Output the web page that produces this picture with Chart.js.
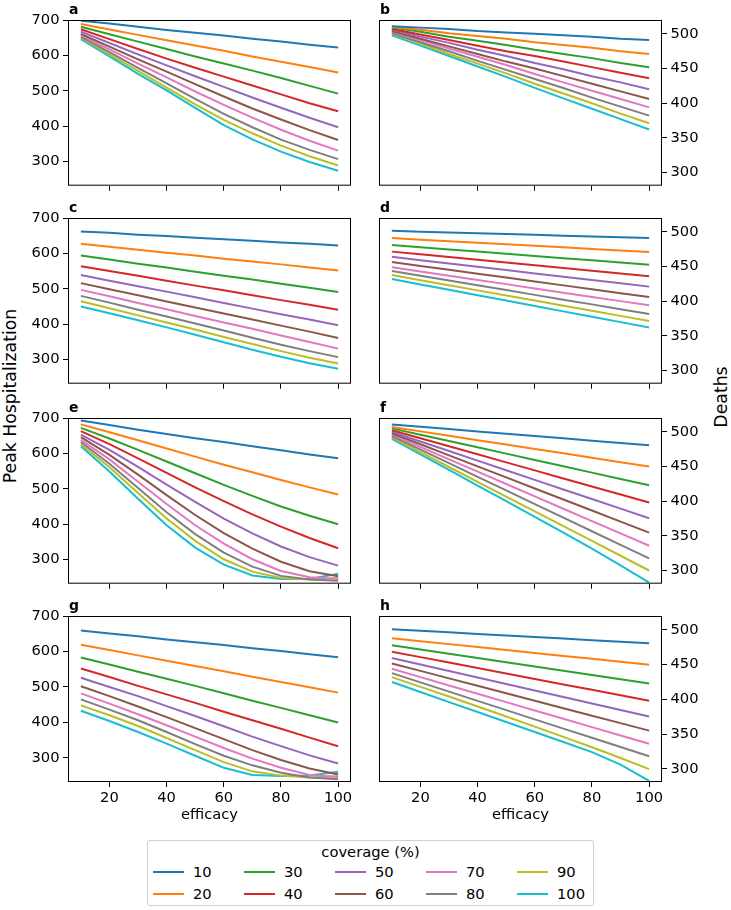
<!DOCTYPE html>
<html>
<head>
<meta charset="utf-8">
<script src="https://cdn.jsdelivr.net/npm/chart.js@4.4.1/dist/chart.umd.min.js"></script>
<style>
  body { margin: 0; background: #fff; font-family: "DejaVu Sans", sans-serif; }
  #fig { position: relative; width: 731px; height: 910px; overflow: hidden; background: #fff; }
  .panel { position: absolute; }
  .ylab { position: absolute; font-size: 17.3px; color: #000; white-space: nowrap; transform: translate(-50%, -50%) rotate(-90deg); }
  #legend { position: absolute; left: 147px; top: 840px; width: 447px; height: 66px; border: 1px solid #d0d0d0; border-radius: 3px; box-sizing: border-box; }
  #legend .title { position: absolute; left: 0; right: 0; top: 2px; text-align: center; font-size: 14.7px; line-height: 18px; }
  #legend .item { position: absolute; height: 18px; font-size: 14.7px; line-height: 18px; }
  #legend .swatch { position: absolute; left: 0; top: 8px; width: 31px; height: 2px; }
  #legend .txt { position: absolute; left: 40px; top: 0; }
</style>
</head>
<body>
<div id="fig">
  <div class="ylab" style="left:10px; top:396px;">Peak Hospitalization</div>
  <div class="ylab" style="left:721px; top:397px;">Deaths</div>
  <div id="legend"><div class="title">coverage (%)</div></div>
</div>

<script>
// x values and coverage levels
const efficacy = [10, 20, 30, 40, 50, 60, 70, 80, 90, 100];
const coverage = [10, 20, 30, 40, 50, 60, 70, 80, 90, 100];
const xTicks = [20, 40, 60, 80, 100];
const hospTicks = [300, 400, 500, 600, 700];
const deathTicks = [300, 350, 400, 450, 500];

// one row per coverage level (10 .. 100)
const hospA = [
    [698, 690, 681, 672, 664, 656, 647, 639, 630, 622],
    [689, 673, 658, 643, 628, 613, 597, 582, 567, 552],
    [681, 660, 639, 618, 597, 577, 557, 536, 514, 492],
    [674, 646, 618, 591, 565, 540, 515, 490, 465, 442],
    [667, 635, 603, 572, 541, 511, 481, 452, 424, 397],
    [661, 625, 589, 554, 519, 484, 450, 419, 389, 361],
    [657, 617, 577, 538, 498, 460, 424, 390, 359, 331],
    [653, 609, 565, 521, 477, 435, 397, 362, 333, 307],
    [650, 603, 556, 509, 462, 418, 380, 345, 315, 289],
    [646, 597, 548, 501, 452, 403, 363, 328, 299, 274]
];
const deathsB = [
    [511, 509, 507, 504, 502, 500, 498, 496, 493, 491],
    [510, 506, 501, 497, 493, 488, 484, 480, 475, 471],
    [509, 503, 496, 490, 484, 477, 471, 465, 458, 452],
    [507, 499, 491, 483, 475, 468, 460, 452, 444, 436],
    [506, 496, 487, 477, 468, 458, 449, 439, 430, 420],
    [504, 493, 482, 471, 460, 450, 439, 428, 417, 406],
    [503, 491, 479, 467, 455, 442, 430, 418, 406, 394],
    [501, 488, 475, 461, 448, 435, 422, 408, 395, 382],
    [500, 486, 471, 457, 443, 428, 414, 400, 385, 371],
    [498, 483, 468, 453, 438, 422, 407, 392, 377, 362]
];
const hospC = [
    [662, 658, 653, 649, 644, 640, 636, 631, 627, 622],
    [627, 619, 610, 602, 594, 585, 577, 569, 560, 552],
    [594, 583, 571, 560, 548, 537, 526, 514, 503, 491],
    [564, 550, 537, 523, 509, 496, 482, 468, 455, 441],
    [539, 523, 507, 492, 476, 460, 444, 428, 413, 397],
    [516, 499, 482, 464, 447, 430, 413, 396, 379, 361],
    [497, 479, 460, 442, 423, 405, 387, 368, 350, 331],
    [480, 461, 441, 422, 402, 382, 362, 342, 324, 307],
    [465, 445, 425, 405, 385, 364, 344, 324, 305, 289],
    [450, 431, 411, 391, 370, 349, 328, 308, 290, 274]
];
const deathsD = [
    [501.5, 500.3, 499.2, 498, 496.8, 495.7, 494.5, 493.3, 492.2, 491],
    [491, 488.8, 486.6, 484.3, 482.1, 479.9, 477.7, 475.4, 473.2, 471],
    [481, 477.9, 474.7, 471.6, 468.4, 465.3, 462.1, 459, 455.8, 452.7],
    [471.5, 467.6, 463.6, 459.7, 455.7, 451.8, 447.8, 443.9, 439.9, 436],
    [464, 459.2, 454.4, 449.7, 444.9, 440.1, 435.3, 430.6, 425.8, 421],
    [456.5, 450.9, 445.3, 439.7, 434.1, 428.4, 422.8, 417.2, 411.6, 406],
    [449, 442.9, 436.8, 430.7, 424.6, 418.4, 412.3, 406.2, 400.1, 394],
    [443.5, 436.6, 429.7, 422.9, 416, 409.1, 402.2, 395.4, 388.5, 381.6],
    [437.7, 430.3, 423, 415.6, 408.3, 400.9, 393.5, 386.2, 378.8, 371.5],
    [432, 424.2, 416.4, 408.7, 400.9, 393.1, 385.3, 377.6, 369.8, 362]
];
const hospE = [
    [693, 680, 667, 655, 643, 632, 620, 609, 597, 586],
    [682, 660, 637, 614, 591, 568, 547, 525, 504, 484],
    [672, 642, 610, 577, 544, 511, 480, 450, 424, 400],
    [663, 626, 586, 545, 504, 465, 428, 393, 361, 332],
    [653, 610, 562, 512, 463, 416, 374, 337, 307, 283],
    [646, 596, 540, 482, 426, 375, 331, 294, 267, 253],
    [638, 583, 520, 457, 397, 345, 301, 268, 250, 245],
    [632, 571, 502, 434, 372, 320, 280, 254, 244, 240],
    [626, 561, 488, 416, 353, 301, 266, 248, 244, 248],
    [620, 549, 472, 397, 334, 286, 255, 245, 245, 260]
];
const deathsF = [
    [510.6, 507.3, 504, 500.6, 497.3, 494, 490.7, 487.3, 484, 480.7],
    [507, 500.7, 494.3, 488, 481.7, 475.3, 469, 462.7, 456.3, 450],
    [505, 495.9, 486.8, 477.7, 468.6, 459.4, 450.3, 441.2, 432.1, 423],
    [502.4, 490.8, 479.2, 467.6, 456, 444.4, 432.8, 421.2, 409.6, 398],
    [500, 486.2, 472.3, 458.5, 444.6, 430.8, 416.9, 403.1, 389.2, 375.4],
    [498, 482.1, 466.1, 450.2, 434.3, 418.3, 402.4, 386.5, 370.5, 354.6],
    [496, 478.2, 460.4, 442.6, 424.8, 406.9, 389.1, 371.3, 353.5, 335.7],
    [494, 474.4, 454.8, 435.1, 415.5, 395.9, 376.3, 356.6, 337, 317.4],
    [492, 470.7, 449.3, 428, 406.7, 385.3, 364, 342.7, 321.3, 300],
    [490, 467.5, 445, 422.5, 400, 377.3, 354.5, 331.5, 307.5, 282.6]
];
const hospG = [
    [659, 651, 643, 634, 626, 618, 609, 601, 592, 584],
    [619, 604, 589, 574, 559, 544, 529, 514, 499, 484],
    [583, 563, 543, 523, 503, 482, 461, 441, 420, 400],
    [552, 528, 503, 479, 455, 430, 406, 382, 357, 333],
    [526, 500, 474, 446, 418, 389, 360, 333, 307, 284],
    [502, 474, 445, 415, 384, 353, 322, 294, 270, 253],
    [482, 453, 423, 392, 360, 328, 298, 272, 252, 246],
    [465, 436, 406, 373, 339, 306, 279, 258, 245, 240],
    [448, 420, 390, 356, 322, 288, 262, 250, 245, 248],
    [433, 404, 373, 340, 306, 272, 252, 249, 250, 261]
];
const deathsH = [
    [501, 498.7, 496.5, 494.2, 492, 489.7, 487.5, 485.2, 483, 480.7],
    [488, 483.8, 479.5, 475.3, 471, 466.8, 462.5, 458.3, 454.1, 449.8],
    [478, 471.9, 465.7, 459.6, 453.4, 447.3, 441.2, 435, 428.9, 422.7],
    [468.6, 460.8, 452.9, 445.1, 437.2, 429.4, 421.5, 413.7, 405.8, 398],
    [459.4, 450.1, 440.7, 431.4, 422.1, 412.7, 403.4, 394.1, 384.7, 375.4],
    [451.7, 441, 430.2, 419.5, 408.7, 398, 387.3, 376.5, 365.8, 355],
    [444, 432, 420, 408, 396, 384, 372, 360, 348, 336],
    [437.7, 424.4, 411.1, 397.8, 384.5, 371.2, 357.9, 344.6, 331.3, 318],
    [432, 418, 404, 389.7, 375.3, 360.7, 346, 331, 315.5, 299.5],
    [425, 410.5, 396, 381.7, 367.3, 353, 338.5, 324, 306, 282.6]
];

const COLORS = ['#1f77b4', '#ff7f0e', '#2ca02c', '#d62728', '#9467bd',
                '#8c564b', '#e377c2', '#7f7f7f', '#bcbd22', '#17becf'];

// layout of the grid of axes
const ROW_TOPS = [20, 218, 418, 616];
const PANEL_H = 166;
const TICK_FONT = { family: 'DejaVu Sans', size: 14.7 };

Chart.defaults.font.family = 'DejaVu Sans';
Chart.defaults.color = '#000';

// full box around each axes, like matplotlib spines
const frame = {
    id: 'frame',
    afterDatasetsDraw(chart) {
        const { ctx, chartArea: a } = chart;
        ctx.save();
        ctx.strokeStyle = '#000';
        ctx.lineWidth = 1;
        ctx.strokeRect(a.left + 0.5, a.top + 0.5, a.right - a.left - 1, a.bottom - a.top - 1);
        ctx.restore();
    }
};

// bold panel letter above the top-left corner
const panelLabel = {
    id: 'panelLabel',
    afterDraw(chart, args, opts) {
        const { ctx, chartArea: a } = chart;
        ctx.save();
        ctx.font = 'bold 14px "DejaVu Sans"';
        ctx.fillStyle = '#000';
        ctx.textBaseline = 'alphabetic';
        ctx.fillText(opts.text, a.left + 1, a.top - 6);
        ctx.restore();
    }
};

const panels = [
    { id: 'a', data: hospA, side: 'left', row: 0 },
    { id: 'b', data: deathsB, side: 'right', row: 0 },
    { id: 'c', data: hospC, side: 'left', row: 1 },
    { id: 'd', data: deathsD, side: 'right', row: 1 },
    { id: 'e', data: hospE, side: 'left', row: 2 },
    { id: 'f', data: deathsF, side: 'right', row: 2 },
    { id: 'g', data: hospG, side: 'left', row: 3 },
    { id: 'h', data: deathsH, side: 'right', row: 3 }
];

const fig = document.getElementById('fig');

function makePanel(p) {
    const left = p.side === 'left';
    const bottom = p.row === 3;
    const xh = bottom ? 48 : 12;

    const wrap = document.createElement('div');
    wrap.className = 'panel';
    wrap.style.left = (left ? 0 : 373) + 'px';
    wrap.style.top = (ROW_TOPS[p.row] - 20) + 'px';
    const canvas = document.createElement('canvas');
    canvas.width = 358;
    canvas.height = 20 + PANEL_H + xh;
    wrap.appendChild(canvas);
    fig.appendChild(wrap);

    const yTicks = left ? hospTicks : deathTicks;

    new Chart(canvas, {
        type: 'line',
        data: {
            datasets: coverage.map((c, i) => ({
                label: String(c),
                data: efficacy.map((x, j) => ({ x: x, y: p.data[i][j] })),
                borderColor: COLORS[i],
                borderWidth: 2,
                pointRadius: 0,
                tension: 0,
                fill: false
            }))
        },
        options: {
            responsive: false,
            animation: false,
            devicePixelRatio: 1,
            layout: { padding: { top: 20, left: left ? 0 : 6, right: left ? 7 : 0, bottom: 0 } },
            plugins: {
                legend: { display: false },
                tooltip: { enabled: false },
                panelLabel: { text: p.id }
            },
            scales: {
                x: {
                    type: 'linear',
                    min: 5.5,
                    max: 104.5,
                    afterBuildTicks: s => { s.ticks = xTicks.map(v => ({ value: v })); },
                    afterFit: s => { s.height = xh; },
                    grid: { drawOnChartArea: false, drawTicks: true, tickLength: 5, color: '#000' },
                    border: { display: false },
                    ticks: { display: bottom, font: TICK_FONT, color: '#000', padding: 2, maxRotation: 0 },
                    title: { display: bottom, text: 'efficacy', font: TICK_FONT, color: '#000', padding: { top: 0, bottom: 6 } }
                },
                y: {
                    type: 'linear',
                    position: left ? 'left' : 'right',
                    min: left ? 232 : 281,
                    max: left ? 700 : 520,
                    afterBuildTicks: s => { s.ticks = yTicks.map(v => ({ value: v })); },
                    afterFit: s => { s.width = left ? 68 : 69; },
                    grid: { drawOnChartArea: false, drawTicks: true, tickLength: 5, color: '#000' },
                    border: { display: false },
                    ticks: { font: TICK_FONT, color: '#000', padding: 3.5 }
                }
            }
        },
        plugins: [frame, panelLabel]
    });
}

panels.forEach(makePanel);

// legend: 5 columns, filled column by column
const legend = document.getElementById('legend');
coverage.forEach((c, i) => {
    const col = Math.floor(i / 2);
    const row = i % 2;
    const item = document.createElement('div');
    item.className = 'item';
    item.style.left = (5 + col * 91) + 'px';
    item.style.top = (22 + row * 21.5) + 'px';
    item.innerHTML = '<div class="swatch" style="background:' + COLORS[i] + '"></div><span class="txt">' + c + '</span>';
    legend.appendChild(item);
});
</script>
</body>
</html>
